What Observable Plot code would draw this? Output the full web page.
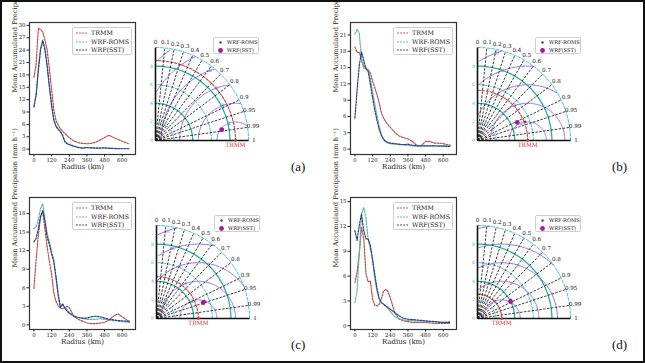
<!DOCTYPE html>
<html><head><meta charset="utf-8">
<script src="https://cdn.jsdelivr.net/npm/d3@7"></script>
<script src="https://cdn.jsdelivr.net/npm/@observablehq/plot@0.6"></script>
<style>
html,body{margin:0;padding:0;background:#fff;}
#wrap{position:relative;width:645px;height:363px;overflow:hidden;font-family:"DejaVu Serif",serif;background:#fff;}
#border{position:absolute;left:0;top:0;width:645px;height:363px;box-sizing:border-box;border:2px solid #111;pointer-events:none;}
.leg{position:absolute;border:0.8px solid #cfcfcf;border-radius:2px;background:#fff;color:#222;box-sizing:border-box;}
.row{position:absolute;white-space:nowrap;}
.plab{position:absolute;font-family:"Liberation Serif",serif;font-size:13px;color:#111;}
</style></head>
<body><div id="wrap"><div id="border"></div></div>
<script>
// ---------- data ----------
const radius = [0,15,30,45,60,75,90,105,120,135,150,165,180,195,210,225,240,270,300,330,360,390,420,450,480,510,540,570,600,630,650];
const xTicks = [0,120,240,360,480,600];
const seriesNames = ["TRMM","WRF-ROMS","WRF(SST)"];

const trmmA = [17.4,20.5,29.3,29.0,28.4,26.5,24.0,19.5,14.5,9.5,7.0,5.8,5.0,4.3,3.8,3.3,2.8,2.0,1.6,1.4,1.3,1.4,1.7,2.2,2.8,3.4,2.8,2.4,1.9,1.5,1.2];
const romsA = [10.5,13.5,19.5,24.5,26.5,24.5,20.5,15.5,11.0,7.3,5.7,5.0,4.3,3.4,1.9,1.4,1.2,0.8,0.5,0.3,0.4,0.35,0.3,0.3,0.3,0.25,0.2,0.15,0.15,0.15,0.15];
const sstA  = [10.2,13.0,19.0,24.0,26.3,24.0,20.0,15.0,10.5,7.0,5.5,4.8,4.2,3.3,1.8,1.3,1.1,0.7,0.4,0.25,0.35,0.3,0.25,0.25,0.3,0.2,0.15,0.1,0.1,0.1,0.1];

const trmmB = [18.8,17.8,17.8,16.5,15.3,14.9,14.6,14.0,12.5,11.3,10.0,8.5,6.6,5.7,5.0,4.5,4.0,3.1,2.4,2.1,1.9,1.4,0.7,0.6,1.4,1.4,1.1,1.1,1.0,0.8,0.7];
const romsB = [21.2,22.0,21.3,16.3,14.8,15.0,14.5,13.0,10.5,8.3,6.2,4.2,2.7,1.7,1.3,1.1,1.0,0.9,0.8,0.8,0.7,0.6,0.6,0.6,0.6,0.6,0.6,0.6,0.6,0.6,0.6];
const sstB  = [5.7,11.0,15.5,17.9,16.3,14.8,14.3,12.0,9.5,7.2,5.3,3.6,2.5,1.8,1.4,1.2,1.1,1.0,0.9,0.8,0.9,0.7,0.6,0.6,0.6,0.6,0.6,0.55,0.55,0.5,0.5];

const trmmC = [5.9,10.5,14.5,17.5,18.3,15.5,12.6,10.3,8.2,5.2,3.8,3.1,2.7,2.6,2.8,3.0,2.8,1.4,0.9,0.6,0.3,0.2,0.2,0.3,0.4,0.8,1.4,1.8,1.3,0.8,0.4];
const romsC = [15.6,15.8,17.0,18.8,19.6,17.0,14.8,13.5,11.8,10.5,7.5,4.5,3.0,3.3,2.8,2.5,2.0,1.5,1.2,1.0,0.9,0.9,0.9,1.0,0.9,0.8,0.7,0.6,0.5,0.45,0.4];
const sstC  = [13.4,14.0,15.5,17.5,18.5,16.8,14.2,13.0,11.5,10.2,7.8,5.0,2.8,3.4,2.7,2.2,1.9,1.4,1.2,1.1,1.1,1.3,1.4,1.3,1.1,0.9,0.8,0.7,0.65,0.6,0.6];

const trmmD = [5.2,6.5,8.8,11.9,10.5,6.3,5.3,5.4,3.2,2.5,2.4,2.6,3.3,4.2,4.4,4.1,3.4,1.6,0.8,0.6,0.5,0.4,0.4,0.4,0.4,0.35,0.3,0.3,0.3,0.3,0.3];
const romsD = [2.8,4.2,9.0,13.5,14.3,13.0,10.4,9.3,8.0,5.7,4.2,3.2,2.8,2.6,2.4,2.1,1.7,1.1,0.85,0.7,0.65,0.6,0.6,0.6,0.55,0.5,0.5,0.45,0.4,0.4,0.55];
const sstD  = [11.5,10.3,12.2,13.5,11.5,10.5,10.5,9.7,8.0,6.2,4.5,3.3,2.8,2.6,2.4,2.2,2.0,1.6,1.2,0.9,0.8,0.75,0.7,0.65,0.6,0.55,0.5,0.45,0.4,0.4,0.4];

const yMaxTick = [30, 21, 18, 15];
const panelLabels = ["(a)","(b)","(c)","(d)"];

// Taylor diagram statistics
const corrTicks = [0,0.1,0.2,0.3,0.4,0.5,0.6,0.7,0.8,0.9,0.95,0.99,1];
const stdTicks = [2,4,6,8,10];
const stdLabelTicks = [0,2,4,6,8];
const rmsTicks = [2,4,6,8,10,12];
const refStd  = [8.6, 5.4, 4.5, 2.6];
const romsStd = [7.35, 5.5, 5.5, 4.1];
const romsCorr= [0.986, 0.93, 0.94, 0.87];
const sstStd  = [7.2, 4.7, 5.3, 4.0];
const sstCorr = [0.987, 0.91, 0.947, 0.89];
const modelNames = ["WRF-ROMS","WRF(SST)"];

// ---------- styles ----------
const colors = ["#bf4a44", "#5cb8a4", "#2b3a8a"];
const yLabel = "Mean Accumulated Precipation (mm h\u207B\u00B9)";
const wrap = document.getElementById("wrap");
const border = document.getElementById("border");
function add(node, left, top) {
  node.style.position = "absolute";
  node.style.left = left + "px";
  node.style.top = top + "px";
  wrap.insertBefore(node, border);
}

const panels = [
  {t: trmmA, r: romsA, s: sstA, yd: [-1.3, 30.7], left: 0, top: 0, fl: 29, ft: 22},
  {t: trmmB, r: romsB, s: sstB, yd: [-1.0, 23.3], left: 321, top: 0, fl: 350, ft: 22},
  {t: trmmC, r: romsC, s: sstC, yd: [-0.75, 20.6], left: 0, top: 175, fl: 29, ft: 197},
  {t: trmmD, r: romsD, s: sstD, yd: [-0.45, 15.5], left: 321, top: 175, fl: 350, ft: 197}
];
const taylorOrigins = [[155,140],[477,140],[156,318],[477,318]];

panels.forEach((p, i) => {
  const yTicks = d3.range(0, yMaxTick[i] + 0.1, 3);
  const mk = arr => radius.map((r, k) => ({r, v: arr[k]}));
  const lineOpts = c => ({x: "r", y: "v", stroke: c, strokeWidth: 1.2, strokeDasharray: "1.8,1.3"});
  const chart = Plot.plot({
    width: 150, height: 196,
    marginLeft: 29, marginRight: 15, marginTop: 42, marginBottom: 22,
    x: {domain: [-30, 690]},
    y: {domain: p.yd},
    style: {fontFamily: "DejaVu Serif", fontSize: "5.4px", color: "#222", background: "transparent", overflow: "visible"},
    marks: [
      Plot.line(mk(p.t), lineOpts(colors[0])),
      Plot.line(mk(p.r), lineOpts(colors[1])),
      Plot.line(mk(p.s), lineOpts(colors[2])),
      Plot.frame({stroke: "#333", strokeWidth: 1.2}),
      Plot.axisX({ticks: xTicks, tickSize: 2.5, tickPadding: 1.2, label: null}),
      Plot.axisY({ticks: yTicks, tickSize: 2.5, tickPadding: 1.5, label: null}),
      Plot.text(["Radius (km)"], {text: d => d, frameAnchor: "bottom", dy: 14.5, fontSize: 7, fill: "#222"}),
      Plot.text([yLabel], {text: d => d, frameAnchor: "left", dx: -15, dy: 4, rotate: -90, fontSize: 6.7, fill: "#222"})
    ]
  });
  add(chart, p.left, p.top - 20);

  // line legend
  const lg = document.createElement("div");
  lg.className = "leg";
  lg.style.width = "60px"; lg.style.height = "28px";
  lg.innerHTML = seriesNames.map((n, k) =>
    `<div class="row" style="left:3px;top:${1 + k * 8.5}px;height:8px;line-height:8px;font-size:6.3px">` +
    `<svg width="12" height="8" style="vertical-align:top"><line x1="0" x2="12" y1="4" y2="4" stroke="${colors[k]}" stroke-width="1.2" stroke-dasharray="1.8,1.3"/></svg>` +
    `<span style="margin-left:3px;vertical-align:top">${n}</span></div>`).join("");
  add(lg, p.fl + 43, p.ft + 5);

  // Taylor diagram
  const [ox, oy] = taylorOrigins[i];
  const R = 10, ref = refStd[i];
  const rad = Math.PI / 180;
  const arcs = [];
  stdTicks.forEach(s => { for (let a = 0; a <= 90; a += 2) arcs.push({s, x: s * Math.cos(a * rad), y: s * Math.sin(a * rad)}); });
  const refArc = d3.range(0, 91, 2).map(a => ({x: ref * Math.cos(a * rad), y: ref * Math.sin(a * rad)}));
  const rms = [];
  rmsTicks.forEach(k => {
    for (let a = 0; a <= 180; a += 1.5) {
      const x = ref + k * Math.cos(a * rad), y = k * Math.sin(a * rad);
      if (x >= 0 && x * x + y * y <= R * R + 1e-9) rms.push({k, x, y});
    }
  });
  const rmsLabels = rmsTicks.map(k => ({k, x: ref + k * Math.cos(110 * rad), y: k * Math.sin(110 * rad)}))
    .filter(d => d.x > 0.3 && d.x * d.x + d.y * d.y < R * R * 0.97);
  const pt = (s, c) => ({x: s * c, y: s * Math.sqrt(1 - c * c)});
  const roms = pt(romsStd[i], romsCorr[i]);
  const sst = pt(sstStd[i], sstCorr[i]);
  const inner = corrTicks.filter(c => c > 0 && c < 1);
  const greenTicks = [4, 8];

  const tay = Plot.plot({
    width: 135, height: 121,
    marginLeft: 16, marginRight: 26, marginTop: 14, marginBottom: 14,
    x: {domain: [0, R], axis: null},
    y: {domain: [0, R], axis: null},
    style: {fontFamily: "DejaVu Serif", fontSize: "5.5px", color: "#111", background: "transparent", overflow: "visible"},
    marks: [
      Plot.line(arcs.filter(d => !greenTicks.includes(d.s)), {x: "x", y: "y", z: "s", stroke: "#45c0d6", strokeWidth: 1, strokeDasharray: "3,1.6"}),
      Plot.line(arcs.filter(d => greenTicks.includes(d.s)), {x: "x", y: "y", z: "s", stroke: "#27b096", strokeWidth: 1.3, strokeDasharray: "6,1"}),
      Plot.line(rms, {x: "x", y: "y", z: "k", stroke: "#8d6cf0", strokeWidth: 1, strokeDasharray: "3.5,1"}),
      Plot.line(refArc, {x: "x", y: "y", stroke: "#c9423c", strokeWidth: 1.1, strokeDasharray: "2.5,1.5"}),
      Plot.link(inner, {x1: 0, y1: 0, x2: c => R * c, y2: c => R * Math.sqrt(1 - c * c), stroke: "#1a1a1a", strokeWidth: 0.85, strokeDasharray: "2.5,1.4"}),
      Plot.link([0, 1], {x1: 0, y1: 0, x2: c => R * c, y2: c => R * Math.sqrt(1 - c * c), stroke: "#111", strokeWidth: 1.6}),
      Plot.text(corrTicks, {x: c => 1.06 * R * c, y: c => 1.06 * R * Math.sqrt(1 - c * c), text: c => String(c), fontSize: 5.6, fill: "#111"}),
      Plot.text(stdLabelTicks, {x: 0, y: s => s, text: s => String(s), dx: -2.5, textAnchor: "end", fontSize: 4.6, fill: "#3bb5c9"}),
      Plot.text(rmsLabels, {x: "x", y: "y", text: d => String(d.k), fontSize: 4.8, fill: "#4a6be0"}),
      Plot.dot([{x: ref, y: 0}], {x: "x", y: "y", r: 1.4, fill: "#c9423c"}),
      Plot.text([{x: ref, y: 0}], {x: "x", y: "y", text: () => "TRMM", dy: 2, lineAnchor: "top", fontSize: 5.8, fill: "#c9423c"}),
      Plot.dot([roms], {x: "x", y: "y", r: 1.2, fill: "#6a2c91"}),
      Plot.dot([sst], {x: "x", y: "y", r: 2.4, fill: "#a5169e"})
    ]
  });
  add(tay, ox - 16, oy - 93 - 14);

  // Taylor legend
  const tl = document.createElement("div");
  tl.className = "leg";
  tl.style.width = "46px"; tl.style.height = "17px";
  const mr = [1.2, 2.4], mc = ["#6a2c91", "#a5169e"];
  tl.innerHTML = modelNames.map((n, k) =>
    `<div class="row" style="left:3px;top:${1 + k * 7.5}px;height:7px;line-height:7px;font-size:5.1px">` +
    `<svg width="7" height="7" style="vertical-align:top"><circle cx="3.5" cy="3.5" r="${mr[k]}" fill="${mc[k]}"/></svg>` +
    `<span style="margin-left:3px;vertical-align:top">${n}</span></div>`).join("");
  add(tl, ox + 58, oy - 103);

  // panel label
  const pl = document.createElement("div");
  pl.className = "plab";
  pl.textContent = panelLabels[i];
  add(pl, (i % 2 ? 612 : 291), (i < 2 ? 159 : 337));
});
</script>
</body></html>
